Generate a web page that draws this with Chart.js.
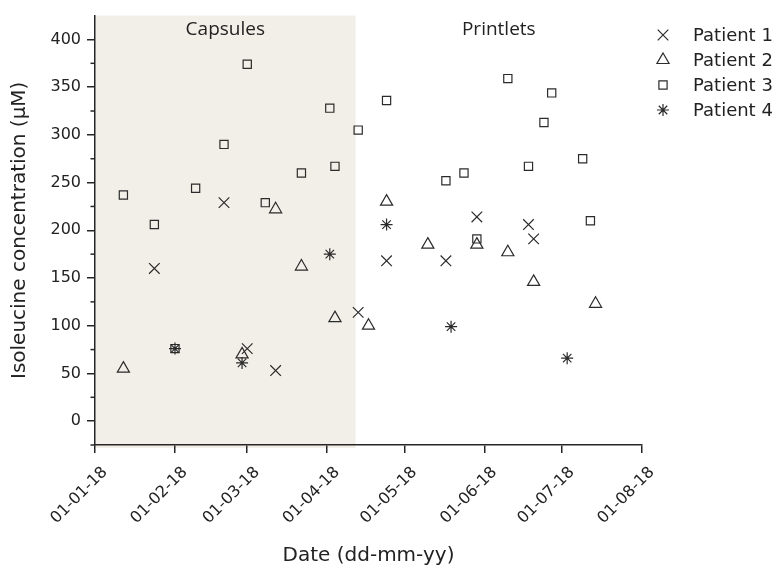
<!DOCTYPE html>
<html><head><meta charset="utf-8">
<script src="https://cdn.jsdelivr.net/npm/chart.js@4.4.0/dist/chart.umd.min.js"></script>
<style>html,body{margin:0;padding:0;background:#fff}canvas{display:block}</style>
</head><body>
<canvas id="c" width="779" height="577"></canvas>
<script>
// ---- data ----
const xTickDates = ['2018-01-01','2018-02-01','2018-03-01','2018-04-01','2018-05-01','2018-06-01','2018-07-01','2018-08-01'];
const xTickLabels = ['01-01-18','01-02-18','01-03-18','01-04-18','01-05-18','01-06-18','01-07-18','01-08-18'];
const yTickValues = [0,50,100,150,200,250,300,350,400];
const yMinorValues = [-25,25,75,125,175,225,275,325,375];
const capsuleStart = '2018-01-01';
const capsuleEnd = '2018-04-12';
const periodLabels = ['Capsules','Printlets'];
const seriesNames = ['Patient 1','Patient 2','Patient 3','Patient 4'];

const p1Dates  = ['2018-01-24','2018-02-20','2018-03-01','2018-03-12','2018-04-13','2018-04-24','2018-05-17','2018-05-29','2018-06-18','2018-06-20'];
const p1Values = [160,229,76,53,114,168,168,214,206,191];

const p2Dates  = ['2018-01-12','2018-02-27','2018-03-12','2018-03-22','2018-04-04','2018-04-17','2018-04-24','2018-05-10','2018-05-29','2018-06-10','2018-06-20','2018-07-14'];
const p2Values = [55,70,222,162,108,100,230,185,185,177,146,123];

const p3Dates  = ['2018-01-12','2018-01-24','2018-02-01','2018-02-09','2018-02-20','2018-03-01','2018-03-08','2018-03-22','2018-04-02','2018-04-04','2018-04-13','2018-04-24','2018-05-17','2018-05-24','2018-05-29','2018-06-10','2018-06-18','2018-06-24','2018-06-27','2018-07-09','2018-07-12'];
const p3Values = [237,206,76,244,290,374,229,260,328,267,305,336,252,260,191,359,267,313,344,275,210];

const p4Dates  = ['2018-02-01','2018-02-27','2018-04-02','2018-04-24','2018-05-19','2018-07-03'];
const p4Values = [76,61,175,206,99,66];

// ---- helpers ----
const DAY = 86400000;
const origin = Date.UTC(2018,0,1);
function dayNum(s){ const [y,m,d] = s.split('-').map(Number); return Math.round((Date.UTC(y,m-1,d)-origin)/DAY); }
function pts(ds, vs){ return ds.map((d,i)=>({x:dayNum(d), y:vs[i]})); }
const xTickVals = xTickDates.map(dayNum);

const INK = '#262626';
const MARK = '#2b2b2b';
const styles = [
  {pointStyle:'crossRot', radius:7.5},
  {pointStyle:'triangle', radius:7},
  {pointStyle:'rect', radius:5.8},
  {pointStyle:'star', radius:6}
];
const allData = [pts(p1Dates,p1Values), pts(p2Dates,p2Values), pts(p3Dates,p3Values), pts(p4Dates,p4Values)];

const datasets = allData.map((d,i)=>({
  label: seriesNames[i],
  data: d,
  pointStyle: styles[i].pointStyle,
  pointRadius: styles[i].radius,
  pointHoverRadius: styles[i].radius,
  borderColor: MARK,
  backgroundColor: 'rgba(0,0,0,0)',
  pointBorderWidth: 1.2,
  borderWidth: 1.2,
  showLine: false
}));

const decor = {
  id:'decor',
  beforeDraw(chart){
    const {ctx, chartArea:a, scales:{x,y}} = chart;
    ctx.save();
    ctx.fillStyle = '#f2efe8';
    const x0 = x.getPixelForValue(dayNum(capsuleStart));
    const x1 = x.getPixelForValue(dayNum(capsuleEnd));
    ctx.fillRect(x0, a.top, x1-x0, a.bottom - a.top + 3);
    ctx.restore();
  },
  afterDraw(chart){
    const {ctx, chartArea:a, scales:{x,y}} = chart;
    ctx.save();
    // minor y ticks
    ctx.strokeStyle = INK; ctx.lineWidth = 1.5;
    yMinorValues.forEach(v=>{
      const py = y.getPixelForValue(v);
      ctx.beginPath(); ctx.moveTo(a.left-4.5, py); ctx.lineTo(a.left, py); ctx.stroke();
    });
    // period labels
    const x0 = x.getPixelForValue(dayNum(capsuleStart));
    const x1 = x.getPixelForValue(dayNum(capsuleEnd));
    ctx.fillStyle = '#222';
    ctx.font = '19px "Open Sans"';
    ctx.textAlign = 'center'; ctx.textBaseline = 'middle';
    ctx.fillText(periodLabels[0], (x0+x1)/2, 30);
    ctx.fillText(periodLabels[1], (x1+a.right)/2, 30);
    // legend
    ctx.font = '18px "DejaVu Sans"';
    ctx.textAlign = 'left';
    chart.data.datasets.forEach((ds,i)=>{
      const ly = 35 + i*25;
      ctx.strokeStyle = MARK; ctx.lineWidth = 1.2; ctx.fillStyle = 'rgba(0,0,0,0)';
      Chart.helpers.drawPoint(ctx, {pointStyle: ds.pointStyle, radius: ds.pointRadius, rotation:0, borderWidth:1.2}, 663, ly);
      ctx.fillStyle = '#222';
      ctx.fillText(ds.label, 693, ly+1);
    });
    ctx.restore();
  }
};

Chart.defaults.font.family = '"DejaVu Sans"';
Chart.defaults.color = '#222';

new Chart(document.getElementById('c'), {
  type:'scatter',
  data:{datasets},
  options:{
    responsive:false,
    animation:false,
    events:[],
    layout:{padding:{top:7, right:137, left:0, bottom:0}},
    plugins:{legend:{display:false}, tooltip:{enabled:false}},
    scales:{
      x:{
        type:'linear',
        min: xTickVals[0], max: xTickVals[xTickVals.length-1],
        afterBuildTicks(s){ s.ticks = xTickVals.map(v=>({value:v})); },
        afterFit(s){ s.height = 132; },
        border:{color:INK, width:1.5},
        grid:{drawOnChartArea:false, drawTicks:true, tickLength:8, color:INK, lineWidth:1.5},
        ticks:{
          autoSkip:false, minRotation:45, maxRotation:45, padding:10, labelOffset:10,
          font:{size:16}, color:'#222',
          callback(v){ const i = xTickVals.indexOf(v); return i>=0 ? xTickLabels[i] : ''; }
        },
        title:{display:true, text:'Date (dd-mm-yy)', font:{size:20}, color:'#222', padding:{top:0,bottom:9}}
      },
      y:{
        min:-25, max:425,
        afterBuildTicks(s){ s.ticks = yTickValues.map(v=>({value:v})); },
        afterFit(s){ s.width = 95; },
        border:{color:INK, width:1.5},
        grid:{drawOnChartArea:false, drawTicks:true, tickLength:8, color:INK, lineWidth:1.5},
        ticks:{font:{size:16}, color:'#222', padding:6},
        title:{display:true, text:'Isoleucine concentration (μM)', font:{size:20}, color:'#222', padding:{top:8,bottom:0}}
      }
    }
  },
  plugins:[decor]
});
</script>
</body></html>
